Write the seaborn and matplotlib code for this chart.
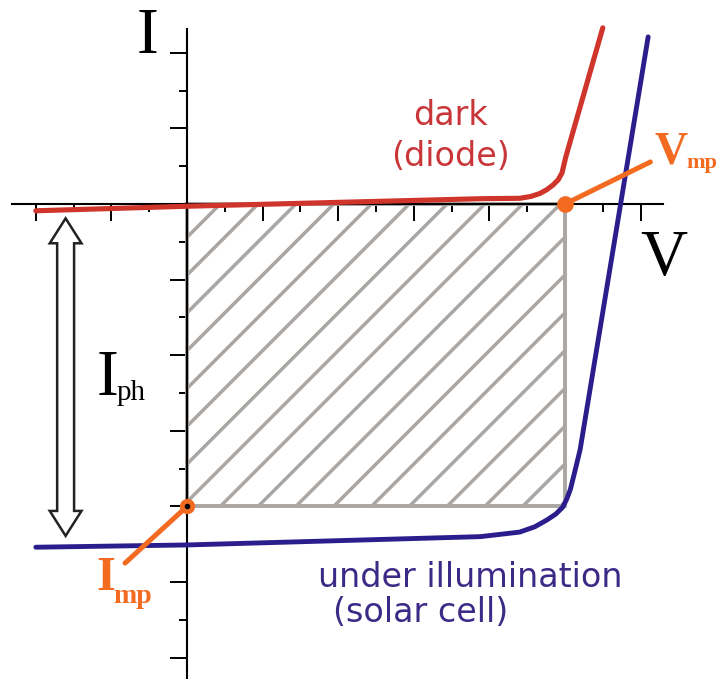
import numpy as np
import pandas as pd
import matplotlib
matplotlib.use("Agg")
import matplotlib.pyplot as plt
import seaborn as sns
from matplotlib.patches import Rectangle, Polygon
from matplotlib.ticker import FixedLocator

# I-V characteristic of a cell in the dark (diode)
dark_v = [-2.0, 0.0, 3.9, 4.40, 4.55, 4.67, 4.76, 4.84, 4.91, 4.96, 5.01, 5.50]
dark_i = [-0.09, -0.03, 0.07, 0.075, 0.10, 0.14, 0.19, 0.25, 0.32, 0.41, 0.62, 2.33]

# I-V characteristic under illumination (solar cell)
light_v = [-2.0, 0.0, 3.88, 4.40, 4.60, 4.76, 4.88, 4.97, 5.02, 5.07, 5.12, 5.20, 6.10]
light_i = [-4.54, -4.51, -4.40, -4.34, -4.27, -4.18, -4.10, -4.01, -3.91, -3.78, -3.58, -3.25, 2.21]

# maximum power point
v_mp = 5.0
i_mp = -4.0

# photocurrent arrow (top and bottom tips)
iph_top = -0.19
iph_bottom = -4.39

# axis ticks
x_major = np.arange(-2, 6.01, 1.0)
x_minor = np.arange(-1.5, 5.6, 1.0)
y_major = np.arange(-6, 2.01, 1.0)
y_minor = np.arange(-5.5, 1.6, 1.0)

RED = "#d0352c"
NAVY = "#2c1d8c"
ORANGE = "#f26b21"
GRAY = "#aaa6a3"
TEXT_RED = "#c9363a"
TEXT_BLUE = "#3d2a86"
SERIF = "Liberation Serif"
SANS = "DejaVu Sans"

sns.set_style("white")
plt.rcParams["font.family"] = ["DejaVu Sans"]
plt.rcParams["text.color"] = "black"

fig = plt.figure(figsize=(7.22, 6.79), dpi=100)
ax = fig.add_axes([0, 0, 1, 1])
ax.set_xlim(-2.474, 7.077)
ax.set_ylim(-6.283, 2.698)

# axes through the origin
for side in ("top", "right"):
    ax.spines[side].set_visible(False)
ax.spines["left"].set_position(("data", 0))
ax.spines["bottom"].set_position(("data", 0))
ax.spines["left"].set_bounds(-6.3, 2.31)
ax.spines["bottom"].set_bounds(-2.31, 6.3)
for side in ("left", "bottom"):
    ax.spines[side].set_linewidth(1.5)
    ax.spines[side].set_color("black")
    ax.spines[side].set_zorder(2.5)

ax.xaxis.set_major_locator(FixedLocator(x_major))
ax.xaxis.set_minor_locator(FixedLocator(x_minor))
ax.yaxis.set_major_locator(FixedLocator(y_major))
ax.yaxis.set_minor_locator(FixedLocator(y_minor))
ax.tick_params(which="both", bottom=True, left=True, top=False, right=False,
               labelbottom=False, labelleft=False, direction="out",
               width=1.4, color="black")
ax.tick_params(which="major", length=12)
ax.tick_params(which="minor", length=6)

# maximum power rectangle with diagonal hatching
rect = Rectangle((0, i_mp), v_mp, -i_mp, facecolor="none", edgecolor=GRAY,
                 linewidth=2.8, zorder=2)
ax.add_patch(rect)
for c in np.arange(-0.06, v_mp - i_mp + 0.5, 0.5):
    ln, = ax.plot([c + i_mp, c], [i_mp, 0], color=GRAY, linewidth=2.5,
                  solid_capstyle="butt", zorder=1.5)
    ln.set_clip_path(rect)

# I-V curves
sns.lineplot(x=dark_v, y=dark_i, sort=False, estimator=None, color=RED,
             linewidth=3.7, ax=ax, zorder=3, solid_joinstyle="round",
             solid_capstyle="round")
sns.lineplot(x=light_v, y=light_i, sort=False, estimator=None, color=NAVY,
             linewidth=3.5, ax=ax, zorder=3, solid_joinstyle="round",
             solid_capstyle="round")

# photocurrent double arrow
cx, hw_head, hw_shaft, hl = -1.606, 0.21, 0.112, 0.33
verts = [(cx, iph_top), (cx + hw_head, iph_top - hl), (cx + hw_shaft, iph_top - hl),
         (cx + hw_shaft, iph_bottom + hl), (cx + hw_head, iph_bottom + hl),
         (cx, iph_bottom), (cx - hw_head, iph_bottom + hl), (cx - hw_shaft, iph_bottom + hl),
         (cx - hw_shaft, iph_top - hl), (cx - hw_head, iph_top - hl)]
ax.add_patch(Polygon(verts, closed=True, facecolor="white", edgecolor="#222222",
                     linewidth=1.8, joinstyle="miter", zorder=3))

# callouts to the maximum power point
ax.plot([v_mp, 6.13], [0, 0.556], color=ORANGE, linewidth=3.6,
        solid_capstyle="round", zorder=4)
ax.plot([0, -0.82], [i_mp, -4.75], color=ORANGE, linewidth=3.6,
        solid_capstyle="round", zorder=4)
ax.plot([v_mp], [0], marker="o", markersize=11, color=ORANGE, zorder=5)
ax.plot([0], [i_mp], marker="o", markersize=10, color=ORANGE, zorder=5)
ax.plot([0], [i_mp], marker="o", markersize=3, color="black", zorder=6)

# axis names
ax.text(-0.661, 1.997, "I", fontfamily=SERIF, fontsize=47, color="black",
        ha="left", va="baseline")
ax.text(5.99, -0.939, "V", fontfamily=SERIF, fontsize=47, color="black",
        ha="left", va="baseline")

# photocurrent label
ax.text(-1.19, -2.526, "I", fontfamily=SERIF, fontsize=47, color="black",
        ha="left", va="baseline")
ax.text(-0.93, -2.593, "ph", fontfamily=SERIF, fontsize=21, color="black",
        ha="left", va="baseline")

# maximum power labels
ax.text(6.19, 0.542, "V", fontfamily=SERIF, fontweight="bold", fontsize=33,
        color=ORANGE, ha="left", va="baseline")
ax.text(6.61, 0.47, "mp", fontfamily=SERIF, fontweight="bold", fontsize=16,
        color=ORANGE, ha="left", va="baseline")
ax.text(-1.204, -5.106, "I", fontfamily=SERIF, fontweight="bold", fontsize=35,
        color=ORANGE, ha="left", va="baseline")
ax.text(-0.97, -5.278, "mp", fontfamily=SERIF, fontweight="bold", fontsize=20,
        color=ORANGE, ha="left", va="baseline")

# curve names
ax.text(3.49, 1.045, "dark", fontfamily=SANS, fontsize=24, color=TEXT_RED,
        ha="center", va="baseline")
ax.text(3.49, 0.503, "(diode)", fontfamily=SANS, fontsize=24, color=TEXT_RED,
        ha="center", va="baseline")
ax.text(1.733, -5.066, "under illumination", fontfamily=SANS, fontsize=24,
        color=TEXT_BLUE, ha="left", va="baseline")
ax.text(1.931, -5.529, "(solar cell)", fontfamily=SANS, fontsize=24,
        color=TEXT_BLUE, ha="left", va="baseline")

fig.savefig("out.png", dpi=100, facecolor="white")
